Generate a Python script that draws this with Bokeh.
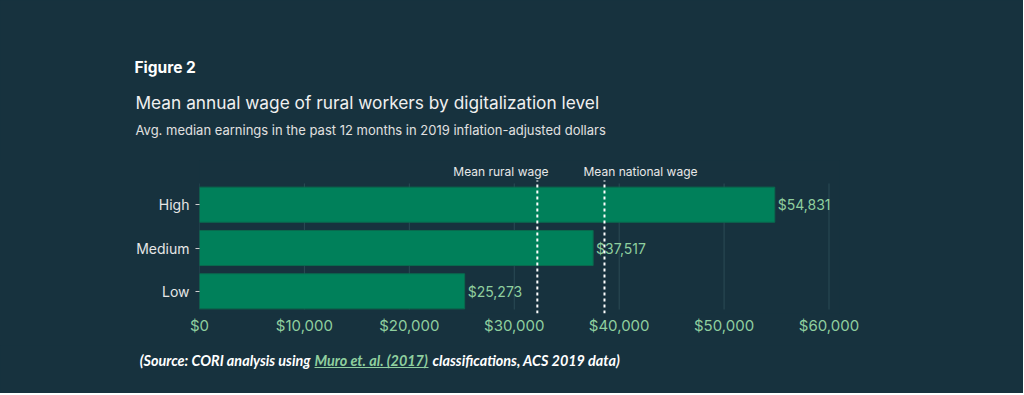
from bokeh.plotting import figure
from bokeh.layouts import column
from bokeh.models import Range1d, NumeralTickFormatter, FixedTicker, ColumnDataSource
from bokeh.core.properties import value
from bokeh.embed import file_html
from bokeh.resources import INLINE

levels = ["Low", "Medium", "High"]
wages = [25273, 37517, 54831]
wage_labels = ["$25,273", "$37,517", "$54,831"]
ref_names = ["Mean rural wage", "Mean national wage"]
ref_values = [32200, 38600]
x_ticks = [0, 10000, 20000, 30000, 40000, 50000, 60000]

BG = "#17323e"
GREEN = "#00805a"
LIGHT_GREEN = "#8fcf9f"
GRID = "#2b4b55"
FONT = "Inter"
W = 1023
BGSTYLE = {"background-color": BG}


def style(f):
    f.background_fill_color = BG
    f.border_fill_color = None
    f.outline_line_color = None
    f.xgrid.grid_line_color = None
    f.ygrid.grid_line_color = None


def blank(h):
    f = figure(width=W, height=h, x_range=Range1d(0, W), y_range=Range1d(h, 0),
               x_axis_type=None, y_axis_type=None, output_backend="svg",
               toolbar_location=None, min_border=0, frame_align=False, styles=BGSTYLE)
    style(f)
    return f


# ---- header ----
hdr = blank(160)
hdr.text(x=[134], y=[67], text=["Figure 2"], text_font=value(FONT), text_font_size="15.5px",
         text_font_style="bold", text_color="#ffffff", text_baseline="middle")
hdr.text(x=[135], y=[102], text=["Mean annual wage of rural workers by digitalization level"],
         text_font=value(FONT), text_font_size="17.3px", text_color="#f0f0f0", text_baseline="middle")
hdr.text(x=[135], y=[129], text=["Avg. median earnings in the past 12 months in 2019 inflation-adjusted dollars"],
         text_font=value(FONT), text_font_size="13px", text_color="#e0e0e0", text_baseline="middle")

# ---- main chart ----
ypos = list(range(len(levels)))
p = figure(width=W, height=185, x_range=Range1d(0, 61000), y_range=Range1d(-0.512, 3.02),
           output_backend="svg", toolbar_location=None, frame_align=False, styles=BGSTYLE,
           min_border_left=199, min_border_right=W - 839, min_border_top=0, min_border_bottom=32)
style(p)

p.segment(x0=x_ticks, x1=x_ticks, y0=[-0.42] * len(x_ticks), y1=[2.49] * len(x_ticks),
          line_color=GRID, line_width=1)

src = ColumnDataSource(dict(y=ypos, wage=wages, label=wage_labels))
p.hbar(y="y", right="wage", left=0, height=0.81, source=src,
       fill_color=GREEN, line_color="#0a6a4e", line_width=1)
p.text(x="wage", y="y", text="label", source=src, x_offset=3, text_baseline="middle",
       text_color=LIGHT_GREEN, text_font=value(FONT), text_font_size="14px")

p.segment(x0=ref_values, x1=ref_values, y0=[-0.512] * 2, y1=[2.56] * 2,
          line_color="white", line_width=2, line_dash="3 3")
p.text(x=ref_values, y=[2.77] * 2, text=ref_names, x_offset=[-84, -21],
       text_color="#e8e8e8", text_font=value(FONT), text_font_size="12px", text_baseline="middle")

p.xaxis.ticker = FixedTicker(ticks=x_ticks)
p.xaxis.formatter = NumeralTickFormatter(format="$0,0")
p.xaxis.axis_line_color = None
p.xaxis.major_tick_line_color = None
p.xaxis.minor_tick_line_color = None
p.xaxis.major_tick_out = 0
p.xaxis.major_tick_in = 0
p.xaxis.major_label_text_color = LIGHT_GREEN
p.xaxis.major_label_text_font = FONT
p.xaxis.major_label_text_font_size = "15px"
p.xaxis.major_label_standoff = 2

p.yaxis.ticker = FixedTicker(ticks=ypos)
p.yaxis.major_label_overrides = {i: name for i, name in zip(ypos, levels)}
p.yaxis.axis_line_color = None
p.yaxis.minor_tick_line_color = None
p.yaxis.major_tick_line_color = "#d0d0d0"
p.yaxis.major_tick_line_width = 1
p.yaxis.major_tick_in = 0
p.yaxis.major_tick_out = 4
p.yaxis.major_label_text_color = "#e6e6e6"
p.yaxis.major_label_text_font = FONT
p.yaxis.major_label_text_font_size = "14px"
p.yaxis.major_label_standoff = 6

# ---- source ----
srcf = blank(48)
SF = "Lato"
SFS = "14.4px"
srcf.text(x=[310], y=[15], text=["(Source: CORI analysis using"], text_font=value(SF), text_align="right",
          text_font_size=SFS, text_font_style="bold italic", text_color="#ffffff", text_baseline="middle")
srcf.text(x=[314], y=[15], text=["Muro et. al. (2017)"], text_font=value(SF),
          text_font_size=SFS, text_font_style="bold italic", text_color=LIGHT_GREEN, text_baseline="middle")
srcf.segment(x0=[314], x1=[428], y0=[22], y1=[22], line_color=LIGHT_GREEN, line_width=1)
srcf.text(x=[432], y=[15], text=["classifications, ACS 2019 data)"], text_font=value(SF),
          text_font_size=SFS, text_font_style="bold italic", text_color="#ffffff", text_baseline="middle")

layout = column(hdr, p, srcf, spacing=0, styles=BGSTYLE)
open("out.html", "w").write(file_html(layout, INLINE))
